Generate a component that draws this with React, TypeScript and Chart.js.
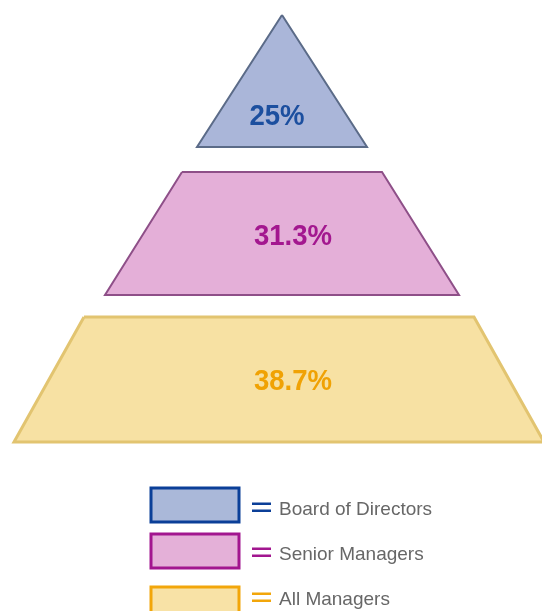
import React, { useEffect, useRef } from 'react';
import { Chart, registerables } from 'chart.js';

Chart.register(...registerables);

// ---- data ----
const categories = ['Board of Directors', 'Senior Managers', 'All Managers'];
const values = [25, 31.3, 38.7];
const valueLabels = ['25%', '31.3%', '38.7%'];

// ---- styles ----
const fillColors = ['#aab6d9', '#e4afd8', '#f7e1a3'];
const strokeColors = ['#5b6b88', '#8e4f88', '#e2c470'];
const strokeWidths = [2, 2, 3];
const textColors = ['#1c4f9f', '#a3178f', '#f0a204'];
const legendBorderColors = ['#0b3f98', '#a2168f', '#f2a60a'];
const legendFillColors = ['#aab8d9', '#e4b0d8', '#f8e2a6'];

// ---- geometry (in chart units) ----
const W = 542;
const H = 611;
const bandTop = [15, 172, 317];
const bandBottom = [147, 295, 442];
const topHalf = [0, 100, 195];
const bottomHalf = [85, 177, 265];
const centers = [282, 282, 279];
const labelPos = [
  [277, 114],
  [293, 234],
  [293, 379],
];
const legendBoxTop = [488, 534, 587];
const legendTextY = [508, 553, 598];

function polygon(i: number) {
  const c = centers[i];
  return [
    { x: c - topHalf[i], y: bandTop[i] },
    { x: c + topHalf[i], y: bandTop[i] },
    { x: c + bottomHalf[i], y: bandBottom[i] },
    { x: c - bottomHalf[i], y: bandBottom[i] },
    { x: c - topHalf[i], y: bandTop[i] },
  ];
}

const labelPlugin = {
  id: 'pyramidLabels',
  afterDatasetsDraw(chart: any) {
    const { ctx, scales } = chart;
    const xs = scales.x;
    const ys = scales.y;
    ctx.save();
    ctx.textAlign = 'center';
    ctx.textBaseline = 'alphabetic';
    values.forEach((_v, i) => {
      const px = xs.getPixelForValue(labelPos[i][0]);
      const py = ys.getPixelForValue(labelPos[i][1]);
      ctx.save();
      ctx.translate(px, py + 11);
      ctx.scale(0.95, 1);
      ctx.font = 'bold 29px "Liberation Sans", Arial, sans-serif';
      ctx.fillStyle = textColors[i];
      ctx.fillText(valueLabels[i], 0, 0);
      ctx.restore();
    });

    // legend
    categories.forEach((name, i) => {
      const x0 = xs.getPixelForValue(151);
      const x1 = xs.getPixelForValue(239);
      const y0 = ys.getPixelForValue(legendBoxTop[i]);
      const y1 = ys.getPixelForValue(legendBoxTop[i] + 34);
      ctx.fillStyle = legendFillColors[i];
      ctx.fillRect(x0, y0, x1 - x0, y1 - y0);
      ctx.strokeStyle = legendBorderColors[i];
      ctx.lineWidth = 3;
      ctx.strokeRect(x0, y0, x1 - x0, y1 - y0);

      const ty = ys.getPixelForValue(legendTextY[i]);
      const ex = xs.getPixelForValue(252);
      ctx.fillStyle = legendBorderColors[i];
      ctx.fillRect(ex, ty - 5.5, 19, 2.5);
      ctx.fillRect(ex, ty + 1.5, 19, 2.5);

      ctx.fillStyle = '#676767';
      ctx.font = '19px "Liberation Sans", Arial, sans-serif';
      ctx.textAlign = 'left';
      ctx.textBaseline = 'alphabetic';
      ctx.fillText(name, xs.getPixelForValue(279), ty + 7);
    });
    ctx.restore();
  },
};

export default function App() {
  const ref = useRef<HTMLCanvasElement | null>(null);

  useEffect(() => {
    if (!ref.current) return;
    const chart = new Chart(ref.current, {
      type: 'scatter',
      data: {
        datasets: categories.map((name, i) => ({
          type: 'line' as const,
          label: name,
          data: polygon(i),
          showLine: true,
          fill: 'shape' as any,
          backgroundColor: fillColors[i],
          borderColor: strokeColors[i],
          borderWidth: strokeWidths[i],
          borderJoinStyle: 'miter' as const,
          pointRadius: 0,
          tension: 0,
        })),
      },
      options: {
        animation: false,
        responsive: false,
        maintainAspectRatio: false,
        layout: { padding: 0 },
        plugins: {
          legend: { display: false },
          tooltip: { enabled: false },
        },
        scales: {
          x: { type: 'linear', min: 0, max: W, display: false },
          y: { type: 'linear', min: 0, max: H, reverse: true, display: false },
        },
      },
      plugins: [labelPlugin],
    });
    return () => chart.destroy();
  }, []);

  return (
    <div style={{ position: 'absolute', left: 0, top: 0, width: W, height: H, background: '#fff' }}>
      <canvas ref={ref} width={W} height={H} style={{ display: 'block', width: W, height: H }} />
    </div>
  );
}
